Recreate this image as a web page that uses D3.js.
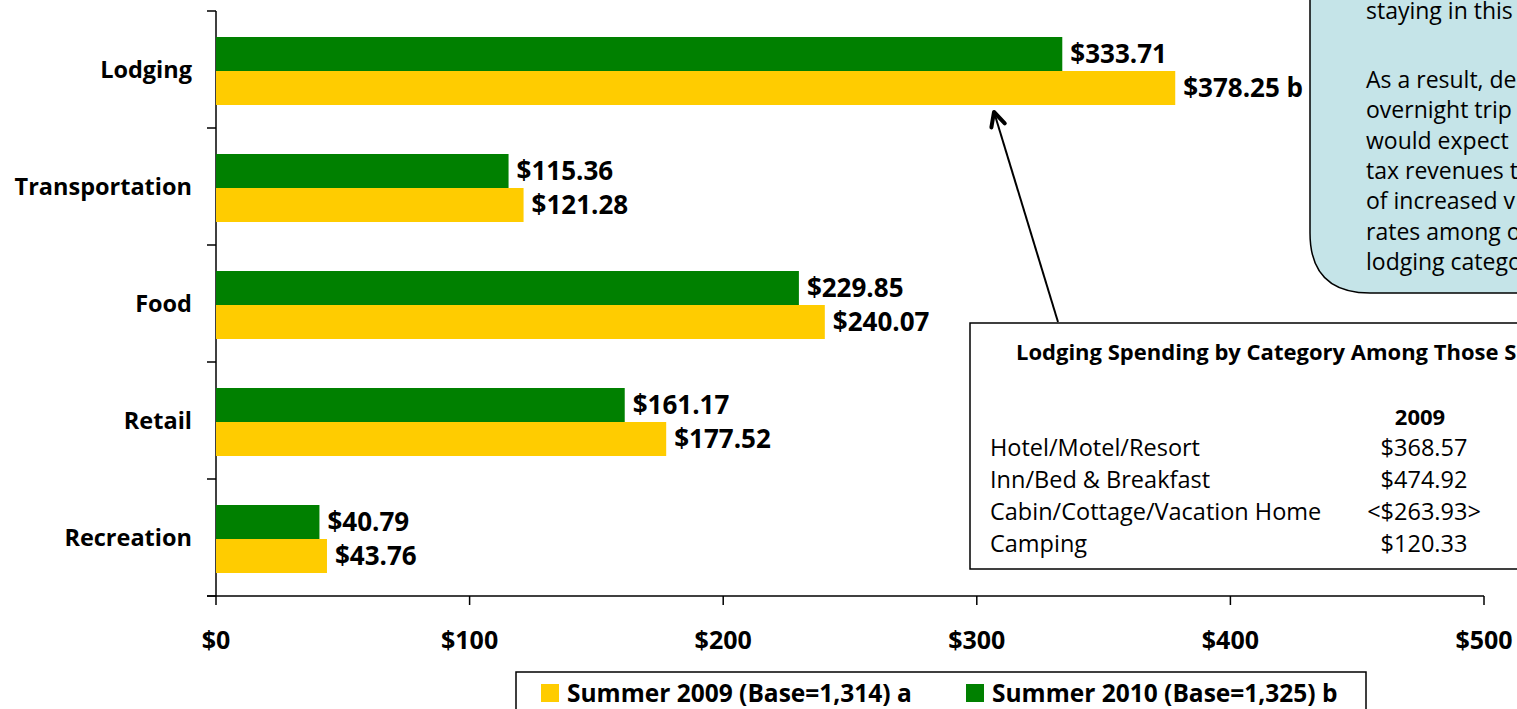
<!DOCTYPE html>
<html>
<head>
<meta charset="utf-8">
<script src="https://cdn.jsdelivr.net/npm/d3@7"></script>
<style>
  body { margin: 0; background: #fff; }
  svg { display: block; font-family: "Open Sans", Lato, sans-serif; }
</style>
</head>
<body>
<svg class="chart"></svg>
<script>
// Data
var categories = ["Lodging", "Transportation", "Food", "Retail", "Recreation"];
var summer2009 = [378.25, 121.28, 240.07, 177.52, 43.76];
var summer2010 = [333.71, 115.36, 229.85, 161.17, 40.79];
var suffix2009 = [" b", "", "", "", ""];
var suffix2010 = ["", "", "", "", ""];
var xTicks = [0, 100, 200, 300, 400, 500];
var seriesNames = ["Summer 2009 (Base=1,314) a", "Summer 2010 (Base=1,325) b"];

var tableTitle = "Lodging Spending by Category Among Those S";
var tableHeader = "2009";
var tableRows = ["Hotel/Motel/Resort", "Inn/Bed & Breakfast", "Cabin/Cottage/Vacation Home", "Camping"];
var tableValues = ["$368.57", "$474.92", "<$263.93>", "$120.33"];

var noteLines = ["staying in this", "", "As a result, de", "overnight trip", "would expect", "tax revenues t", "of increased v", "rates among o", "lodging catego"];

var W = 1517, H = 709;
var margin = { top: 11, left: 216 },
    plotW = 1484 - 216,
    plotH = 596 - 11;

var svg = d3.select(".chart").attr("width", W).attr("height", H);
var chart = svg.append("g").attr("transform", "translate(" + margin.left + "," + margin.top + ")");

var x = d3.scaleLinear().domain([0, 500]).range([0, plotW]);
var y = d3.scaleBand().domain(categories).range([0, plotH]);
var barH = 34;
var pad = 26;

// Axes
chart.append("line").attr("x1", 0).attr("x2", 0).attr("y1", 0).attr("y2", plotH)
    .attr("stroke", "#000").attr("stroke-width", 1.5);
chart.append("line").attr("x1", -9).attr("x2", plotW).attr("y1", plotH).attr("y2", plotH)
    .attr("stroke", "#000").attr("stroke-width", 1.5);

// y ticks at band boundaries
var yBounds = categories.map(function (c) { return y(c); }).concat([plotH]);
chart.selectAll(".ytick").data(yBounds).enter().append("line")
    .attr("x1", -9).attr("x2", 0)
    .attr("y1", function (d) { return d; }).attr("y2", function (d) { return d; })
    .attr("stroke", "#000").attr("stroke-width", 1.5);

// x ticks
chart.selectAll(".xtick").data(xTicks).enter().append("line")
    .attr("x1", function (d) { return x(d); }).attr("x2", function (d) { return x(d); })
    .attr("y1", plotH).attr("y2", plotH + 9)
    .attr("stroke", "#000").attr("stroke-width", 1.5);
chart.selectAll(".xlab").data(xTicks).enter().append("text")
    .attr("x", function (d) { return x(d); })
    .attr("y", plotH + 53)
    .attr("text-anchor", "middle")
    .attr("font-size", 25).attr("font-weight", "bold")
    .text(function (d) { return "$" + d; });

// category labels
chart.selectAll(".ylab").data(categories).enter().append("text")
    .attr("x", -24)
    .attr("y", function (d) { return y(d) + y.bandwidth() / 2 + 8; })
    .attr("text-anchor", "end")
    .attr("font-size", 23.5).attr("font-weight", "bold")
    .text(function (d) { return d; });

// bars
var rows = categories.map(function (c, i) {
    return { cat: c, v09: summer2009[i], v10: summer2010[i], s09: suffix2009[i], s10: suffix2010[i] };
});

chart.selectAll(".bar10").data(rows).enter().append("rect")
    .attr("x", 0)
    .attr("y", function (d) { return y(d.cat) + pad; })
    .attr("width", function (d) { return x(d.v10); })
    .attr("height", barH)
    .attr("fill", "#008000");
chart.selectAll(".bar09").data(rows).enter().append("rect")
    .attr("x", 0)
    .attr("y", function (d) { return y(d.cat) + pad + barH; })
    .attr("width", function (d) { return x(d.v09); })
    .attr("height", barH)
    .attr("fill", "#FFCC00");

// value labels
chart.selectAll(".lab10").data(rows).enter().append("text")
    .attr("x", function (d) { return x(d.v10) + 8; })
    .attr("y", function (d) { return y(d.cat) + pad + barH / 2 + 9; })
    .attr("font-size", 26).attr("font-weight", "bold")
    .text(function (d) { return "$" + d.v10.toFixed(2) + d.s10; });
chart.selectAll(".lab09").data(rows).enter().append("text")
    .attr("x", function (d) { return x(d.v09) + 8; })
    .attr("y", function (d) { return y(d.cat) + pad + barH * 1.5 + 9; })
    .attr("font-size", 26).attr("font-weight", "bold")
    .text(function (d) { return "$" + d.v09.toFixed(2) + d.s09; });

// Callout note (rounded box, clipped by the page edge)
svg.append("path")
    .attr("d", "M1310,-20 L1310,233 Q1310,293 1370,293 L1560,293 L1560,-20 Z")
    .attr("fill", "#C5E4E8").attr("stroke", "#000").attr("stroke-width", 1.5);
svg.selectAll(".note").data(noteLines).enter().append("text")
    .attr("x", 1366)
    .attr("y", function (d, i) { return i === 0 ? 19 : 88 + (i - 2) * 30.3; })
    .attr("font-size", 23)
    .text(function (d) { return d; });

// Table box
svg.append("rect").attr("x", 970).attr("y", 323).attr("width", 600).attr("height", 246)
    .attr("fill", "#fff").attr("stroke", "#000").attr("stroke-width", 1.5);
svg.append("text").attr("x", 1016).attr("y", 360)
    .attr("font-size", 22).attr("font-weight", "bold").text(tableTitle);
svg.append("text").attr("x", 1420).attr("y", 425).attr("text-anchor", "middle")
    .attr("font-size", 22).attr("font-weight", "bold").text(tableHeader);
svg.selectAll(".trow").data(tableRows).enter().append("text")
    .attr("x", 990).attr("y", function (d, i) { return 456 + i * 32; })
    .attr("font-size", 23.5).text(function (d) { return d; });
svg.selectAll(".tval").data(tableValues).enter().append("text")
    .attr("x", 1424).attr("y", function (d, i) { return 456 + i * 32; })
    .attr("text-anchor", "middle")
    .attr("font-size", 23.5).text(function (d) { return d; });

// Arrow pointing to lodging bar
var defs = svg.append("defs");
defs.append("marker").attr("id", "arr").attr("viewBox", "0 0 20 20")
    .attr("refX", 17).attr("refY", 10).attr("markerWidth", 20).attr("markerHeight", 20)
    .attr("markerUnits", "userSpaceOnUse").attr("orient", "auto")
    .append("path").attr("d", "M3,3 L17,10 L3,17").attr("fill", "none")
    .attr("stroke", "#000").attr("stroke-width", 4)
    .attr("stroke-linecap", "round").attr("stroke-linejoin", "round");
svg.append("line").attr("x1", 1058).attr("y1", 322).attr("x2", 994).attr("y2", 112)
    .attr("stroke", "#000").attr("stroke-width", 2).attr("marker-end", "url(#arr)");

// Legend
svg.append("rect").attr("x", 516).attr("y", 672).attr("width", 850).attr("height", 60)
    .attr("fill", "#fff").attr("stroke", "#000").attr("stroke-width", 1.5);
var legColors = ["#FFCC00", "#008000"];
var legX = [541, 966];
seriesNames.forEach(function (n, i) {
    svg.append("rect").attr("x", legX[i]).attr("y", 684).attr("width", 18).attr("height", 18)
        .attr("fill", legColors[i]);
    svg.append("text").attr("x", legX[i] + 26).attr("y", 702)
        .attr("font-size", 24.5).attr("font-weight", "bold").text(n);
});
</script>
</body>
</html>
